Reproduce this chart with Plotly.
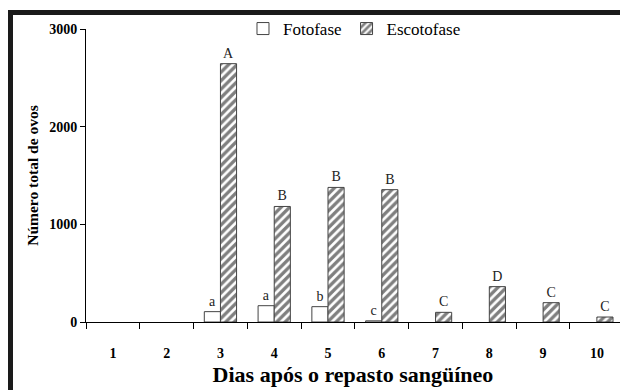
import plotly.graph_objects as go

dias = ["1", "2", "3", "4", "5", "6", "7", "8", "9", "10"]
fotofase = [0, 0, 106, 167, 157, 12, 0, 0, 0, 0]
escotofase = [0, 0, 2645, 1183, 1378, 1355, 99, 362, 198, 51]
letras_foto = ["", "", "a", "a", "b", "c", "", "", "", ""]
letras_esco = ["", "", "A", "B", "B", "B", "C", "D", "C", "C"]

serif = "Liberation Serif"
edge = "#444444"
hatch = dict(shape="/", fgcolor="black", bgcolor="white", size=6, solidity=0.55)

def edge_widths(vals):
    return [0 if v == 0 else 1 for v in vals]

fig = go.Figure()
fig.add_trace(go.Bar(
    x=dias, y=fotofase, name="Fotofase", showlegend=False, offsetgroup="f",
    marker=dict(color="white", line=dict(color=edge, width=edge_widths(fotofase))),
    text=letras_foto, textposition="outside", cliponaxis=False, constraintext="none",
    textfont=dict(family=serif, size=14, color="#222222"),
))
fig.add_trace(go.Bar(
    x=dias, y=escotofase, name="Escotofase", showlegend=False, offsetgroup="e",
    marker=dict(color="white", line=dict(color=edge, width=edge_widths(escotofase)),
                pattern=hatch),
    text=letras_esco, textposition="outside", cliponaxis=False, constraintext="none",
    textfont=dict(family=serif, size=14, color="#222222"),
))
# legend-only entries (share the offset groups so bar widths are unchanged)
fig.add_trace(go.Bar(x=dias[:1], y=[None], name="Fotofase", showlegend=True, offsetgroup="f",
                     marker=dict(color="white", line=dict(color=edge, width=1))))
fig.add_trace(go.Bar(x=dias[:1], y=[None], name="Escotofase", showlegend=True, offsetgroup="e",
                     marker=dict(color="white", line=dict(color=edge, width=1), pattern=hatch)))

fig.update_layout(
    width=620, height=390,
    margin=dict(l=86, r=0, t=29, b=68, autoexpand=False),
    paper_bgcolor="white", plot_bgcolor="white",
    barmode="group", bargap=0.4, bargroupgap=0,
    font=dict(family=serif, color="black"),
    showlegend=True,
    legend=dict(orientation="h", x=0.294, y=1.0, xanchor="left", yanchor="middle",
                font=dict(family=serif, size=17, color="black"),
                bgcolor="rgba(0,0,0,0)", itemwidth=30, tracegroupgap=0),
    xaxis=dict(
        type="category",
        range=[-0.5, 9.43], tickson="boundaries",
        ticks="outside", ticklen=6, tickwidth=1, tickcolor="#000000",
        automargin=False,
        showline=True, linecolor="black", linewidth=1, showgrid=False,
        tickfont=dict(family=serif, size=14, weight="bold"),
        ticktext=["<br>" + d for d in dias], tickvals=dias,
        title=dict(text="Dias após o repasto sangüíneo", standoff=6,
                   font=dict(family=serif, size=22, weight="bold")),
    ),
    yaxis=dict(
        range=[0, 3000], tickvals=[0, 1000, 2000, 3000],
        ticksuffix="\u00a0\u00a0",
        ticks="outside", ticklen=5, tickwidth=1, tickcolor="#000000",
        automargin=False,
        showline=True, linecolor="black", linewidth=1, showgrid=False,
        zeroline=False,
        tickfont=dict(family=serif, size=14, weight="bold"),
        title=dict(text="Número total de ovos", standoff=6,
                   font=dict(family=serif, size=15.5, weight="bold")),
    ),
    shapes=[dict(type="rect", xref="paper", yref="paper",
                 x0=(10.5 - 86) / 534, x1=1.4, y0=-0.5, y1=1 + (29 - 12.5) / 293,
                 line=dict(color="#1a1a1a", width=5), fillcolor="rgba(0,0,0,0)",
                 layer="above")],
)

fig.write_html("out.html", config={"displayModeBar": False},
               post_script="document.body.style.margin='0';")
